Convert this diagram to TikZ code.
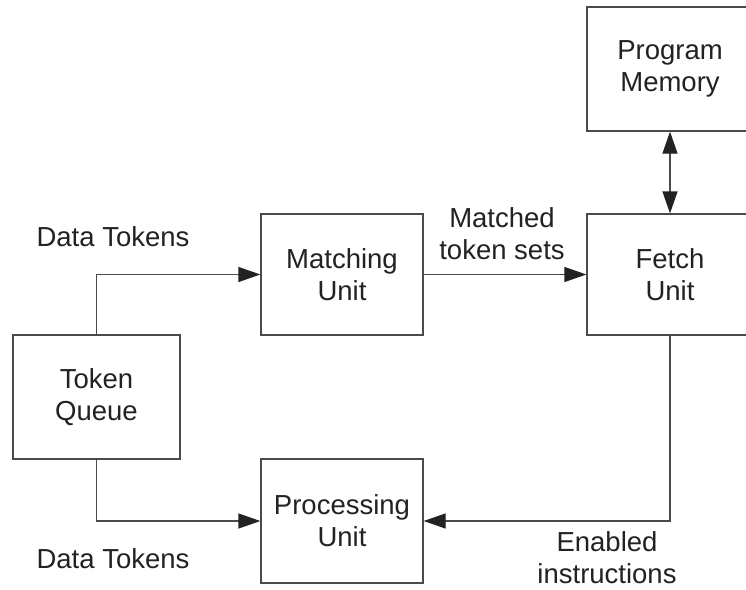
\documentclass[tikz,border=0pt]{standalone}
\usepackage{fontspec}
\setmainfont{Liberation Sans}
\usetikzlibrary{arrows.meta}
\definecolor{linegray}{HTML}{4A4A4A}
\definecolor{inkgray}{HTML}{222222}
\tikzset{
  tip/.style={Triangle[length=22pt,width=15pt,color=inkgray]},
  unitbox/.style={draw=linegray, line width=1.3pt, align=center, text=inkgray,
    font=\fontsize{27.5}{32}\selectfont, inner sep=0pt},
  flow/.style={draw=linegray, line width=1.3pt, -{Triangle[length=22pt,width=15pt,color=inkgray]}},
  biflow/.style={draw=linegray, line width=1.3pt,
    {Triangle[length=22pt,width=15pt,color=inkgray]}-{Triangle[length=22pt,width=15pt,color=inkgray]}},
  lbl/.style={align=center, text=inkgray, font=\fontsize{27.5}{32}\selectfont, inner sep=0pt}
}
\begin{document}
\begin{tikzpicture}[x=1pt,y=-1pt]
  \useasboundingbox (0,0) rectangle (746,589);
  \clip (0,0) rectangle (746,589);
  \fill[white] (0,0) rectangle (746,589);

  % functional units
  \node[unitbox, minimum width=166pt, minimum height=124pt] (pm) at (670,69) {Program\\Memory};
  \node[unitbox, minimum width=166pt, minimum height=121pt] (fu) at (670,274.5) {Fetch\\Unit};
  \node[unitbox, minimum width=162pt, minimum height=121pt] (mu) at (342,274.5) {Matching\\Unit};
  \node[unitbox, minimum width=167pt, minimum height=124pt] (tq) at (96.5,397) {Token\\Queue};
  \node[unitbox, minimum width=162pt, minimum height=124pt] (pu) at (342,521) {Processing\\Unit};

  % data paths
  \draw[flow] (tq.north) |- (mu.west);
  \draw[flow] (tq.south) |- (pu.west);
  \draw[flow] (mu.east) -- (fu.west);
  \draw[flow] (fu.south) |- (pu.east);
  \draw[biflow] (pm.south) -- (fu.north);

  % path labels
  \node[lbl] (dt1) at (113,237) {Data Tokens};
  \node[lbl] (dt2) at (113,559) {Data Tokens};
  \node[lbl] (mts) at (502,233.5) {Matched\\token sets};
  \node[lbl] (ein) at (607,558) {Enabled\\instructions};
\end{tikzpicture}
\end{document}
